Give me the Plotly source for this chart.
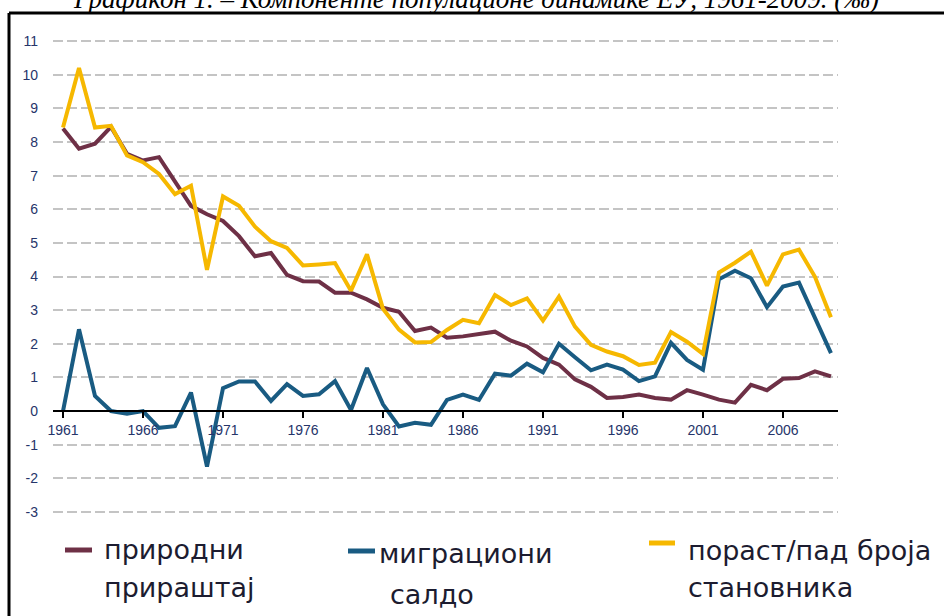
import plotly.graph_objects as go

years = list(range(1961, 2010))

natural = [8.4, 7.8, 7.95, 8.45, 7.65, 7.45, 7.55, 6.8, 6.1, 5.85,
           5.65, 5.2, 4.6, 4.7, 4.05, 3.86, 3.85, 3.52, 3.52, 3.32,
           3.07, 2.95, 2.38, 2.48, 2.18, 2.22, 2.29, 2.36, 2.09, 1.92,
           1.58, 1.38, 0.94, 0.72, 0.39, 0.42, 0.49, 0.39, 0.34, 0.62,
           0.49, 0.34, 0.25, 0.78, 0.62, 0.96, 0.98, 1.18, 1.03]

migration = [0.0, 2.43, 0.45, 0.0, -0.08, 0.0, -0.5, -0.45, 0.55, -1.65,
             0.68, 0.88, 0.88, 0.3, 0.8, 0.45, 0.5, 0.89, 0.03, 1.28,
             0.2, -0.46, -0.35, -0.41, 0.33, 0.49, 0.33, 1.11, 1.05, 1.41,
             1.15, 2.0, 1.6, 1.21, 1.38, 1.23, 0.89, 1.03, 2.03, 1.52,
             1.23, 3.92, 4.17, 3.95, 3.09, 3.7, 3.82, 2.79, 1.72]

total = [8.43, 10.2, 8.43, 8.48, 7.6, 7.4, 7.05, 6.45, 6.7, 4.2,
         6.38, 6.1, 5.48, 5.05, 4.85, 4.33, 4.36, 4.4, 3.58, 4.66,
         3.04, 2.42, 2.04, 2.05, 2.41, 2.71, 2.61, 3.45, 3.15, 3.35,
         2.69, 3.4, 2.51, 1.97, 1.77, 1.63, 1.37, 1.44, 2.35, 2.06,
         1.7, 4.12, 4.41, 4.74, 3.73, 4.66, 4.8, 3.99, 2.79]

x_ticks = [1961, 1966, 1971, 1976, 1981, 1986, 1991, 1996, 2001, 2006]
y_ticks = list(range(-3, 12))

title_text = "Графикон 1. – Компоненте популационе динамике ЕУ, 1961-2009. (‰)"
legend_names = [["природни", "прираштај"],
                ["миграциони", "салдо"],
                ["пораст/пад броја", "становника"]]

C_NAT = "#6e3046"
C_MIG = "#195b82"
C_TOT = "#f6b800"

W, H = 944, 616
ML, MR, MT, MB = 53, 106, 30, 96
PW, PH = W - ML - MR, H - MT - MB
YR = [-3.24, 11.33]
XR = [1960.375, 2009.44]


def px(x):
    return (x - ML) / PW


def py(y):
    return (H - MB - y) / PH


fig = go.Figure()
fig.add_trace(go.Scatter(x=years, y=natural, mode="lines",
                         line=dict(color=C_NAT, width=4), showlegend=False))
fig.add_trace(go.Scatter(x=years, y=migration, mode="lines",
                         line=dict(color=C_MIG, width=4), showlegend=False))
fig.add_trace(go.Scatter(x=years, y=total, mode="lines",
                         line=dict(color=C_TOT, width=4), showlegend=False))

zero_pos = (0 - YR[0]) / (YR[1] - YR[0])

tick_font = dict(family="Liberation Sans, Arial, sans-serif", size=14, color="#26356a")

fig.update_layout(
    width=W, height=H,
    margin=dict(l=ML, r=MR, t=MT, b=MB, autoexpand=False),
    paper_bgcolor="white", plot_bgcolor="white",
    xaxis=dict(range=XR, tickvals=x_ticks, ticktext=[str(v) for v in x_ticks],
               showgrid=False, zeroline=False, showline=True, linecolor="black",
               linewidth=2, ticks="outside", ticklen=6, tickwidth=2,
               tickcolor="black", anchor="free", position=zero_pos,
               tickfont=tick_font),
    yaxis=dict(range=YR, tickvals=y_ticks, ticktext=[str(v) for v in y_ticks],
               showgrid=True, gridcolor="#c4c4c4", gridwidth=2,
               griddash="10px,4px", zeroline=False, showline=False,
               ticks="", ticklabelstandoff=14, tickfont=tick_font),
)

shapes = [
    dict(type="line", xref="paper", yref="paper", x0=px(9), x1=px(946),
         y0=py(13), y1=py(13), line=dict(color="black", width=3)),
    dict(type="line", xref="paper", yref="paper", x0=px(9), x1=px(9),
         y0=py(13), y1=py(620), line=dict(color="black", width=3)),
]

# legend marks
leg_marks = [(65, 92, 550, C_NAT), (348, 375, 551, C_MIG), (649, 675, 543, C_TOT)]
for x0, x1, yy, c in leg_marks:
    shapes.append(dict(type="line", xref="paper", yref="paper",
                       x0=px(x0), x1=px(x1), y0=py(yy), y1=py(yy),
                       line=dict(color=c, width=5)))
fig.update_layout(shapes=shapes)

annotations = [
    dict(text="<i>" + title_text + "</i>", xref="paper", yref="paper",
         x=px(476), y=py(16), xanchor="center", yanchor="bottom", showarrow=False,
         font=dict(family="Liberation Serif, Times New Roman, serif", size=27,
                   color="black")),
]
leg_text_pos = [((102, 549), (102, 587)), ((377, 553), (388, 594)), ((686, 550), (686, 587))]
leg_font = dict(family="DejaVu Sans, Liberation Sans, sans-serif", size=27, color="#1c1c30")
for names, pos in zip(legend_names, leg_text_pos):
    for name, (lx, ly) in zip(names, pos):
        annotations.append(dict(text=name, xref="paper", yref="paper",
                                x=px(lx), y=py(ly), xanchor="left", yanchor="middle",
                                showarrow=False, font=leg_font))
fig.update_layout(annotations=annotations)

fig.write_html("out.html", config={"displayModeBar": False},
               post_script="document.body.style.margin='0';document.body.style.overflow='hidden';")
